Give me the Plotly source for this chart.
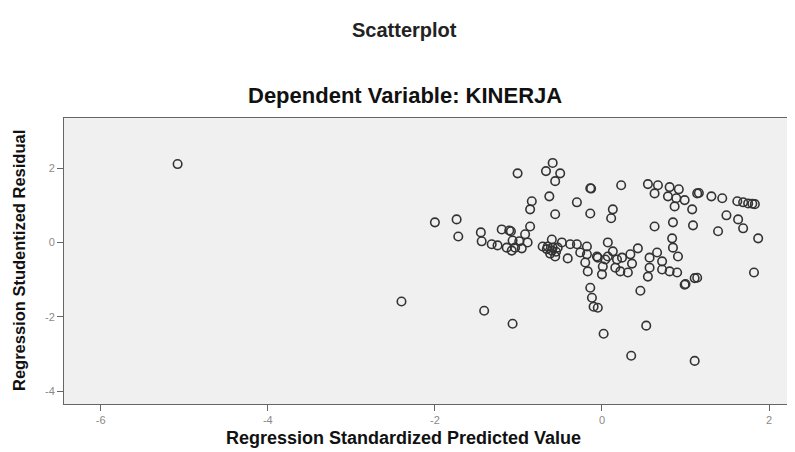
import plotly.graph_objects as go

# Regression Standardized Predicted Value (x) and Regression Studentized Residual (y)
pred = [
    -5.08, -1.01, -0.59, -0.67, -0.50, -0.56, -0.14, -0.13, -0.84, -0.63,
    -0.30, -0.86, -0.56, -0.14, -2.00, -1.74, -1.72, 0.23, 0.55, 0.67,
    0.81, 0.92, 0.63, 0.79, 0.89, 0.99, 0.87, 1.08, 1.14, 1.16,
    1.31, 1.44, 1.62, 1.69, 1.75, 1.83, 1.80, 0.13, 0.11, 1.49,
    1.63, 1.69, 1.39, 1.87, 0.63, 0.85, 1.09, 0.84, 0.85, 0.91,
    -0.86, -1.45, -1.20, -1.11, -1.09, -0.92, -1.44, -1.32, -1.25, -1.14,
    -1.07, -0.99, -0.89, -1.04, -0.96, -1.08, -0.60, -0.71, -0.65, -0.59,
    -0.53, -0.62, -0.56, -0.60, -0.66, -0.55, -0.48, -0.38, -0.30, -0.18,
    -0.41, -0.26, -0.18, -0.06, -0.20, -0.17, 0.07, -0.05, 0.04, 0.13,
    0.18, 0.24, 0.34, 0.43, 0.36, 0.57, 0.66, 0.72, 0.72, 0.81,
    0.90, 0.55, 0.01, 0.00, 0.16, 0.22, 0.31, 0.99, 1.00, 1.14,
    1.11, -0.14, -0.12, -0.10, -0.05, 0.46, 1.82, -2.40, -1.41, -1.07,
    0.02, 0.53, 0.35, 1.11, 0.57, 0.07,
]
resid = [
    2.11, 1.86, 2.14, 1.92, 1.86, 1.65, 1.46, 1.45, 1.11, 1.24,
    1.08, 0.89, 0.76, 0.78, 0.54, 0.62, 0.16, 1.54, 1.57, 1.54,
    1.49, 1.43, 1.32, 1.24, 1.19, 1.14, 0.97, 0.89, 1.32, 1.33,
    1.24, 1.19, 1.11, 1.08, 1.05, 1.03, 1.04, 0.89, 0.65, 0.73,
    0.62, 0.38, 0.30, 0.11, 0.43, 0.54, 0.46, 0.11, -0.14, -0.38,
    0.43, 0.27, 0.35, 0.32, 0.30, 0.22, 0.03, -0.05, -0.08, -0.14,
    0.05, 0.03, 0.00, -0.14, -0.16, -0.22, 0.08, -0.11, -0.11, -0.14,
    -0.14, -0.30, -0.38, -0.22, -0.18, -0.25, 0.00, -0.05, -0.05, -0.11,
    -0.43, -0.27, -0.32, -0.38, -0.54, -0.78, 0.00, -0.41, -0.46, -0.24,
    -0.46, -0.41, -0.32, -0.16, -0.57, -0.41, -0.27, -0.51, -0.73, -0.78,
    -0.81, -0.92, -0.65, -0.86, -0.68, -0.78, -0.81, -1.14, -1.12, -0.95,
    -0.96, -1.22, -1.49, -1.73, -1.76, -1.30, -0.81, -1.59, -1.84, -2.19,
    -2.46, -2.24, -3.05, -3.19, -0.68, -0.38,
]

x_ticks = [-6, -4, -2, 0, 2]
y_ticks = [-4, -2, 0, 2]

FONT = "Liberation Sans, Arial, sans-serif"

fig = go.Figure()
fig.add_trace(go.Scatter(
    x=pred, y=resid, mode="markers",
    marker=dict(symbol="circle-open", size=8.5, color="#333333",
                line=dict(width=1.6, color="#333333")),
    hoverinfo="x+y", showlegend=False,
))

axis_common = dict(
    showgrid=False, zeroline=False,
    showline=True, mirror=True, linecolor="#666666", linewidth=1,
    ticks="outside", ticklen=6, tickwidth=1, tickcolor="#666666",
    tickfont=dict(family=FONT, size=11, color="#8a8a8a"),
)

# page body has an 8px margin, so the figure is sized to fill the rest
fig.update_layout(
    width=787, height=444,
    margin=dict(l=56, r=3, t=110, b=48),
    paper_bgcolor="white",
    plot_bgcolor="#f0f0f0",
    font=dict(family=FONT),
    xaxis=dict(range=[-6.44, 2.275], tickvals=x_ticks,
               ticktext=[str(v) for v in x_ticks], **axis_common),
    yaxis=dict(range=[-4.35, 3.35], tickvals=y_ticks,
               ticktext=[str(v) for v in y_ticks], **axis_common),
    annotations=[
        dict(text="<b>Scatterplot</b>", xref="paper", yref="paper",
             x=0.4684, y=1.3077, xanchor="center", yanchor="middle",
             showarrow=False, font=dict(family=FONT, size=20, color="#222222")),
        dict(text="<b>Dependent Variable: KINERJA</b>", xref="paper", yref="paper",
             x=0.4684, y=1.0804, xanchor="center", yanchor="middle",
             showarrow=False, font=dict(family=FONT, size=22, color="#111111")),
        dict(text="<b>Regression Standardized Predicted Value</b>", xref="paper", yref="paper",
             x=0.466, y=-0.1189, xanchor="center", yanchor="middle",
             showarrow=False, font=dict(family=FONT, size=18, color="#111111")),
        dict(text="<b>Regression Studentized Residual</b>", xref="paper", yref="paper",
             x=-0.0618, y=0.5, xanchor="center", yanchor="middle", textangle=-90,
             showarrow=False, font=dict(family=FONT, size=16.5, color="#111111")),
    ],
)

fig.write_html("out.html")
